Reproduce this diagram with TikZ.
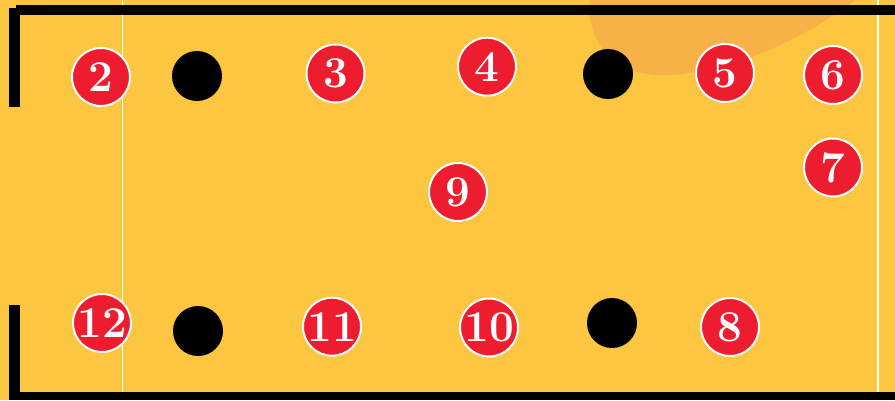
\documentclass[tikz,border=0pt]{standalone}
\definecolor{bgyellow}{RGB}{253,198,65}
\definecolor{blobor}{RGB}{248,177,70}
\definecolor{numred}{RGB}{237,28,46}
\begin{document}
\begin{tikzpicture}[x=0.75pt,y=-0.75pt,
  num/.style={circle,fill=numred,draw=white,line width=1.5pt,minimum size=43.5pt,inner sep=0pt,
    text=white,font=\fontsize{33}{33}\selectfont\bfseries},
  dot/.style={circle,fill=black,minimum size=37.5pt,inner sep=0pt},
  bar/.style={fill=black},
  fieldline/.style={draw=white,line width=0.9pt}]
\useasboundingbox (0,0) rectangle (895,400);
\fill[bgyellow] (0,0) rectangle (895,400);
% orange blob
\fill[blobor] (590,0) .. controls (586,40) and (612,78) .. (668,75)
  .. controls (735,72) and (805,38) .. (855,0) -- cycle;
% thin white field lines
\draw[fieldline] (122.5,0) -- (122.5,400);
\draw[fieldline] (878,0) -- (878,400);
% black bars
\fill[bar] (16,5) rectangle (895,15);
\fill[bar] (9,8) rectangle (20,107);
\fill[bar] (9,305) rectangle (20,400);
\fill[bar] (9,392) rectangle (895,400);
% black dots
\node[dot] (d1) at (197,76) {};
\node[dot] (d2) at (608,74) {};
\node[dot] (d3) at (198,331) {};
\node[dot] (d4) at (612,323) {};
% numbered circles
\node[num] (c2) at (101,77) {2};
\node[num] (c3) at (335.5,73.5) {3};
\node[num] (c4) at (487,66.7) {4};
\node[num] (c5) at (725,73) {5};
\node[num] (c6) at (833,75) {6};
\node[num] (c7) at (833,167.5) {7};
\node[num] (c8) at (730,327) {8};
\node[num] (c9) at (458,192) {9};
\node[num] (c10) at (489,327.5) {10};
\node[num] (c11) at (332,326.7) {11};
\node[num] (c12) at (102,323) {12};
\end{tikzpicture}
\end{document}
